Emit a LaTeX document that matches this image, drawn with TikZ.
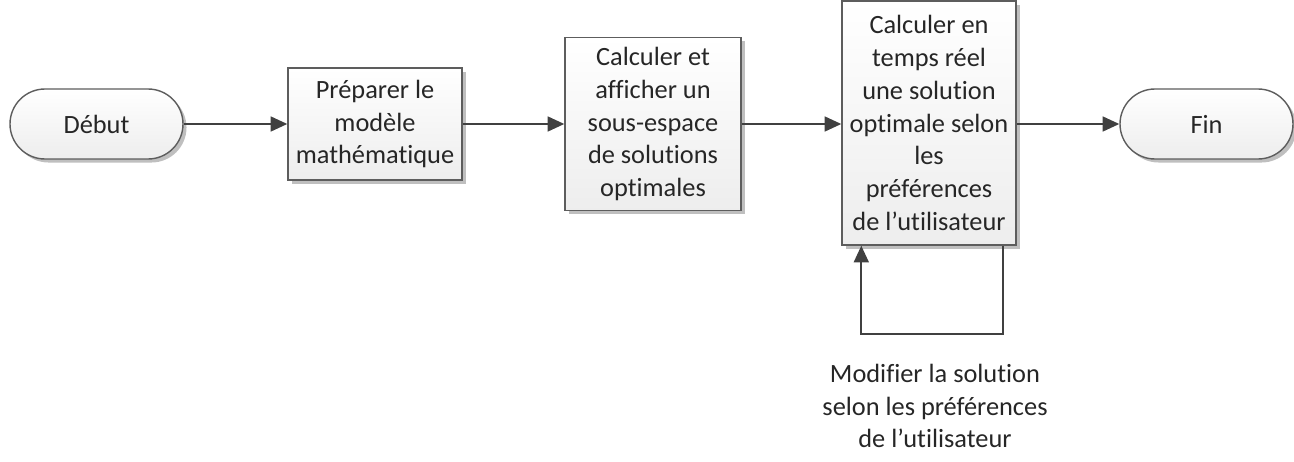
\documentclass[tikz,border=0pt]{standalone}
\usepackage{fontspec}
\setmainfont[Ligatures=NoCommon]{Carlito}
\usetikzlibrary{arrows.meta,positioning,shadows}

\definecolor{linegray}{HTML}{404040}
\definecolor{textgray}{HTML}{262626}
% keep t and i apart (no ti ligature)
\newcommand{\nolig}{\kern0pt}

\begin{document}
\begin{tikzpicture}[
    every node/.style={font=\fontsize{15}{18.7}\selectfont, text=textgray},
    cbox/.style={draw=linegray!85, line width=0.8pt, top color=white, bottom color=gray!14,
                 align=center, inner sep=0pt,
                 drop shadow={shadow xshift=2pt, shadow yshift=-2pt, opacity=0.25, fill=black}},
    term/.style={cbox, rounded corners=0.7cm, minimum width=3.46cm, minimum height=1.4cm},
    arr/.style={-{Triangle[length=9.5pt, width=8.5pt]}, line width=1.1pt, draw=linegray},
]
\useasboundingbox (0,0) rectangle (25.88,-9.24);

% Start and end
\node[term] (start) at (1.93, -2.48) {Début};
\node[term] (stop) at (24.13, -2.48) {Fin};

% Steps
\node[cbox, minimum width=3.48cm, minimum height=2.24cm] (c1) at (7.5, -2.48)
    {Préparer le\\modèle\\mathématique};
\node[cbox, minimum width=3.52cm, minimum height=3.46cm] (c2) at (13.06, -2.48)
    {Calculer et\\afficher un\\sous-espace\\de solut\nolig ions\\optimales};
\node[cbox, minimum width=3.48cm, minimum height=4.88cm] (c3) at (18.58, -2.46)
    {Calculer en\\temps réel\\une solut\nolig ion\\optimale selon\\les\\préférences\\de l’ut\nolig ilisateur};

% Loop label
\node[align=center] (loop) at (18.7, -8.12)
    {Modifier la solut\nolig ion\\selon les préférences\\de l’ut\nolig ilisateur};

% Connecting arrows
\draw[arr] (start) -- (c1);
\draw[arr] (c1) -- (c2);
\draw[arr] (c2) -- (c3.west |- c2);
\draw[arr] (c3.east |- stop) -- (stop);
\draw[arr] ([xshift=-0.28cm]c3.south east) -- ++(0,-1.76) -| ([xshift=0.4cm]c3.south west);
\end{tikzpicture}
\end{document}
